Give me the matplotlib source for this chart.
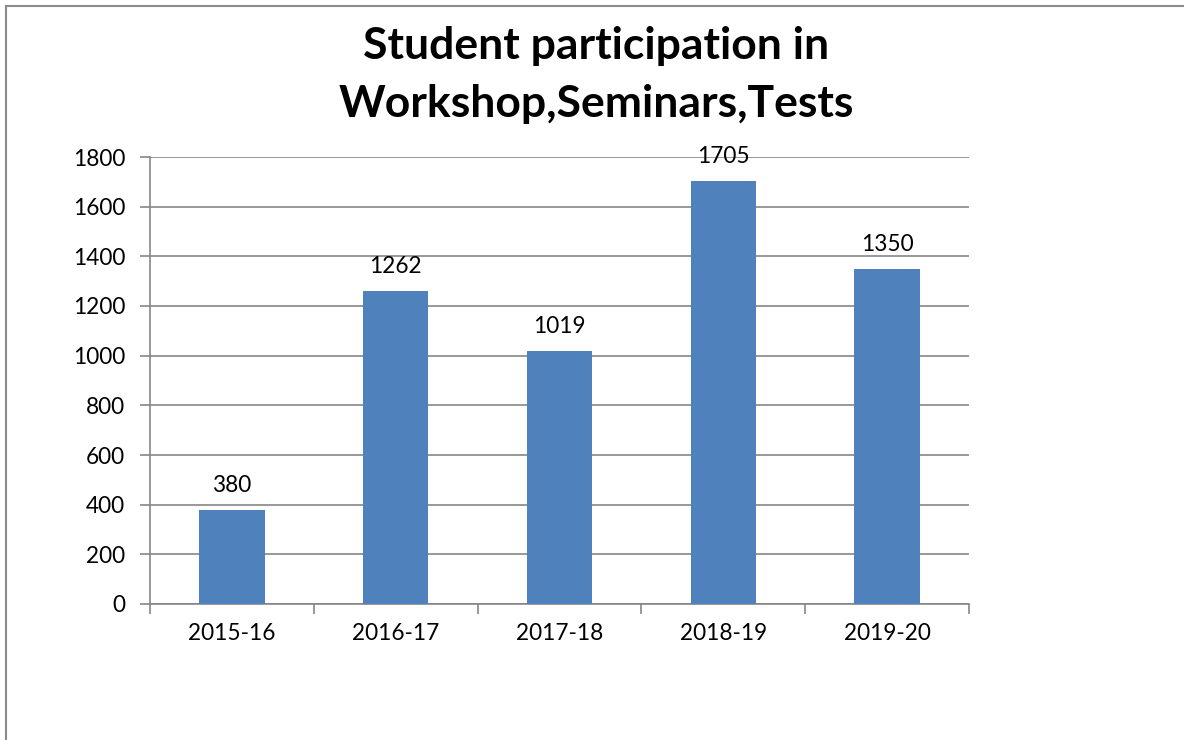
import matplotlib
matplotlib.use("Agg")
import matplotlib.pyplot as plt
from matplotlib.lines import Line2D

categories = ["2015-16", "2016-17", "2017-18", "2018-19", "2019-20"]
values = [380, 1262, 1019, 1705, 1350]
yticks = [0, 200, 400, 600, 800, 1000, 1200, 1400, 1600, 1800]

plt.rcParams['font.family'] = ['Lato', 'DejaVu Sans']

W, H = 1184, 740
fs = 16.3
fig = plt.figure(figsize=(W/100, H/100), dpi=100)
ax = fig.add_axes([150/W, 1-604/H, (969-150)/W, (604-157)/H])

x = list(range(len(categories)))
ax.bar(x, values, width=0.4, color='#4F81BD', zorder=3)
for xi, v in zip(x, values):
    ax.annotate(str(v), (xi, v), xytext=(0, 10), textcoords='offset points',
                ha='center', va='bottom', fontsize=fs, color='black')

ax.set_xlim(-0.5, len(categories) - 0.5)
ax.set_ylim(0, 1800)
ax.set_yticks(yticks)
ax.set_yticklabels([str(t) for t in yticks], fontsize=fs)
ax.yaxis.grid(True, color='#868686', linewidth=1.2, zorder=0)
ax.set_xticks(x)
ax.set_xticklabels(categories, fontsize=fs)
ax.tick_params(axis='x', length=0, pad=14)
ax.set_xticks([i - 0.5 for i in range(len(categories) + 1)], minor=True)
ax.tick_params(axis='x', which='minor', length=7, width=1.2, color='#868686')
ax.tick_params(axis='y', length=7, width=1.2, color='#868686', pad=11)
for s in ['top', 'right']:
    ax.spines[s].set_visible(False)
for s in ['left', 'bottom']:
    ax.spines[s].set_color('#868686')
    ax.spines[s].set_linewidth(1.2)

fig.text(596/W, 1-75/H, "Student participation in\nWorkshop,Seminars,Tests",
         ha='center', va='center', fontsize=32, fontweight='bold', linespacing=1.53)

fig.add_artist(Line2D([6/W, 6/W], [0, 1-6/H], color='#8c8c8c', linewidth=1.5))
fig.add_artist(Line2D([6/W, 1], [1-6/H, 1-6/H], color='#8c8c8c', linewidth=1.5))

fig.savefig("out.png", dpi=100)
